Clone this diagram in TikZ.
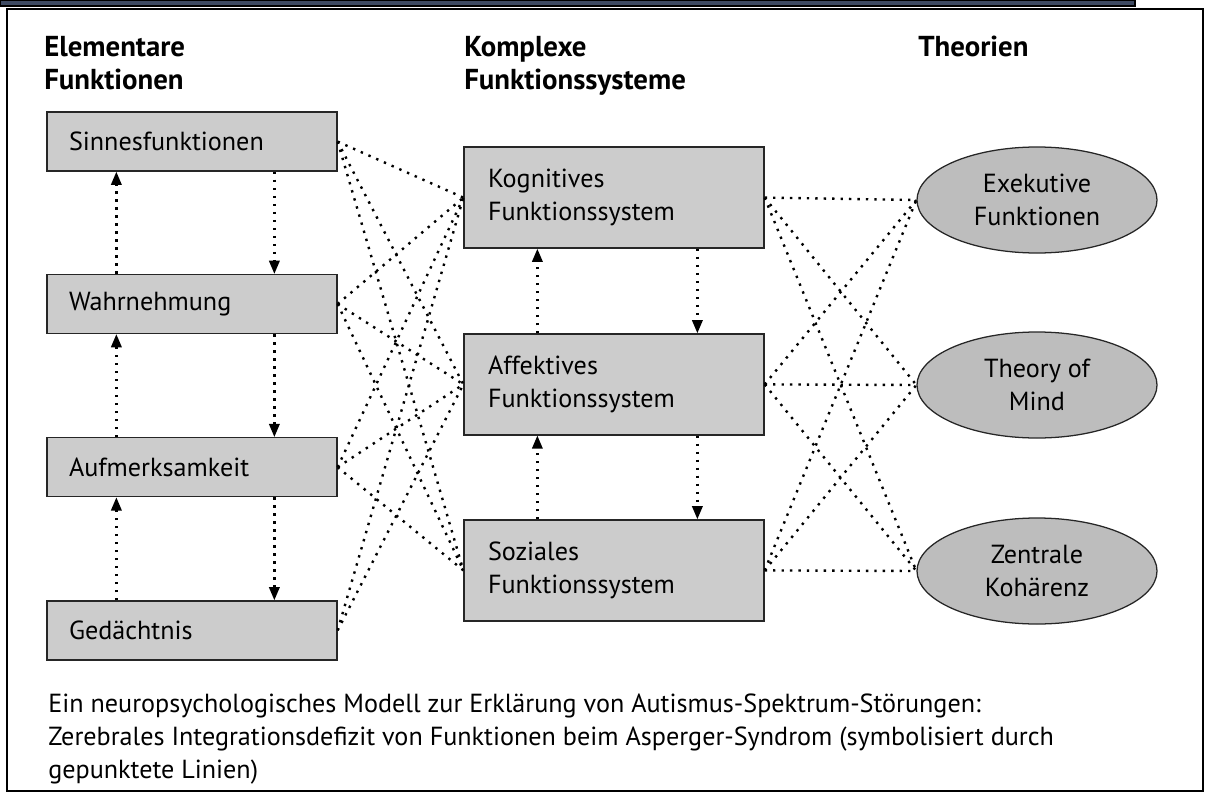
\documentclass[tikz,border=0pt]{standalone}
\usepackage{fontspec}
\setmainfont{PT Sans}
\usetikzlibrary{arrows.meta, positioning, shapes.geometric}
\definecolor{boxBd}{HTML}{262626}
\definecolor{boxFl}{HTML}{CCCCCC}
\definecolor{ovalFl}{HTML}{BDBDBD}
\definecolor{scanBar}{HTML}{3E4A62}
\newcommand{\head}{\fontsize{20.5}{22.5}\selectfont\bfseries}

\begin{document}
\begin{tikzpicture}[
  font=\fontsize{18.6}{23.5}\selectfont,
  >={Triangle[length=3.3mm, width=2.6mm]},
  elem/.style={draw=boxBd, fill=boxFl, line width=0.9pt, align=left,
               text width=6.15cm, inner xsep=0.55cm, minimum height=1.475cm},
  sys/.style={draw=boxBd, fill=boxFl, line width=0.9pt, align=left,
              text width=6.3cm, inner xsep=0.6cm, minimum height=2.525cm},
  oval/.style={ellipse, draw=boxBd, fill=ovalFl, line width=0.9pt, align=center,
               inner sep=0pt, minimum width=6.0cm, minimum height=2.65cm},
  title/.style={anchor=north west, align=left, inner sep=0pt},
  flow/.style={->, line width=1.7pt, dash pattern=on 1.7pt off 4pt},
  link/.style={line width=1.7pt, dash pattern=on 1.7pt off 4.3pt},
]
\useasboundingbox (0,0) rectangle (30.4cm,-19.95cm);

% ---------------------------- frame ---------------------------------------
\draw[fill=scanBar, line width=0.8pt] (0,0) rectangle (28.375cm,-0.15cm);
\draw[line width=1.4pt] (0.175cm,-0.225cm) rectangle (30.075cm,-19.775cm);

% ---------------------------- column heads --------------------------------
\node[title] (hElem) at (1.1cm,-0.9cm) {\head Elementare\\\head Funktionen};
\node[title] (hSys)  at (11.6cm,-0.9cm) {\head Komplexe\\\head Funktionssysteme};
\node[title] (hTh)   at (22.95cm,-0.9cm) {\head Theorien};

% ---------------------------- elementary functions ------------------------
\node[elem] (sinn) at (4.8cm,-3.54cm)  {Sinnesfunktionen};
\node[elem] (wahr) at (4.8cm,-7.6cm)   {Wahrnehmung};
\node[elem] (aufm) at (4.8cm,-11.68cm) {Aufmerksamkeit};
\node[elem] (geda) at (4.8cm,-15.76cm) {Gedächtnis};

% ---------------------------- complex systems -----------------------------
\node[sys] (kog) at (15.35cm,-4.94cm)  {Kognitives\\Funktionssystem};
\node[sys] (aff) at (15.35cm,-9.61cm)  {Affektives\\Funktionssystem};
\node[sys] (soz) at (15.35cm,-14.26cm) {Soziales\\Funktionssystem};

% ---------------------------- theories ------------------------------------
\node[oval] (exe) at (25.925cm,-5.0cm)   {Exekutive\\Funktionen};
\node[oval] (tom) at (25.925cm,-9.625cm) {Theory of\\Mind};
\node[oval] (zen) at (25.925cm,-14.275cm) {Zentrale\\Kohärenz};

% ---------------------------- caption -------------------------------------
\node[title] (cap) at (1.2cm,-17.35cm)
  {Ein neuropsychologisches Modell zur Erklärung von Autismus-Spektrum-Störungen:\\
   Zerebrales Integrationsdefizit von Funktionen beim Asperger-Syndrom (symbolisiert durch\\
   gepunktete Linien)};

% ---------------------------- up and down within a column -----------------
\draw[flow] ([xshift=1.75cm]wahr.north west) -- ([xshift=1.75cm]sinn.south west);
\draw[flow] ([xshift=1.75cm]aufm.north west) -- ([xshift=1.75cm]wahr.south west);
\draw[flow] ([xshift=1.75cm]geda.north west) -- ([xshift=1.75cm]aufm.south west);
\draw[flow] ([xshift=5.7cm]sinn.south west) -- ([xshift=5.7cm]wahr.north west);
\draw[flow] ([xshift=5.7cm]wahr.south west) -- ([xshift=5.7cm]aufm.north west);
\draw[flow] ([xshift=5.7cm]aufm.south west) -- ([xshift=5.7cm]geda.north west);

\draw[flow] ([xshift=1.85cm]aff.north west) -- ([xshift=1.85cm]kog.south west);
\draw[flow] ([xshift=1.85cm]soz.north west) -- ([xshift=1.85cm]aff.south west);
\draw[flow] ([xshift=5.85cm]kog.south west) -- ([xshift=5.85cm]aff.north west);
\draw[flow] ([xshift=5.85cm]aff.south west) -- ([xshift=5.85cm]soz.north west);

% ---------------------------- dotted integration links --------------------
% memory reaches only the upper two systems
\draw[link] (sinn.east) -- (kog.west) (sinn.east) -- (aff.west) (sinn.east) -- (soz.west);
\draw[link] (wahr.east) -- (kog.west) (wahr.east) -- (aff.west) (wahr.east) -- (soz.west);
\draw[link] (aufm.east) -- (kog.west) (aufm.east) -- (aff.west) (aufm.east) -- (soz.west);
\draw[link] (geda.east) -- (kog.west) (geda.east) -- (aff.west);

\draw[link] (kog.east) -- (exe.west) (kog.east) -- (tom.west) (kog.east) -- (zen.west);
\draw[link] (aff.east) -- (exe.west) (aff.east) -- (tom.west) (aff.east) -- (zen.west);
\draw[link] (soz.east) -- (exe.west) (soz.east) -- (tom.west) (soz.east) -- (zen.west);

\end{tikzpicture}
\end{document}
